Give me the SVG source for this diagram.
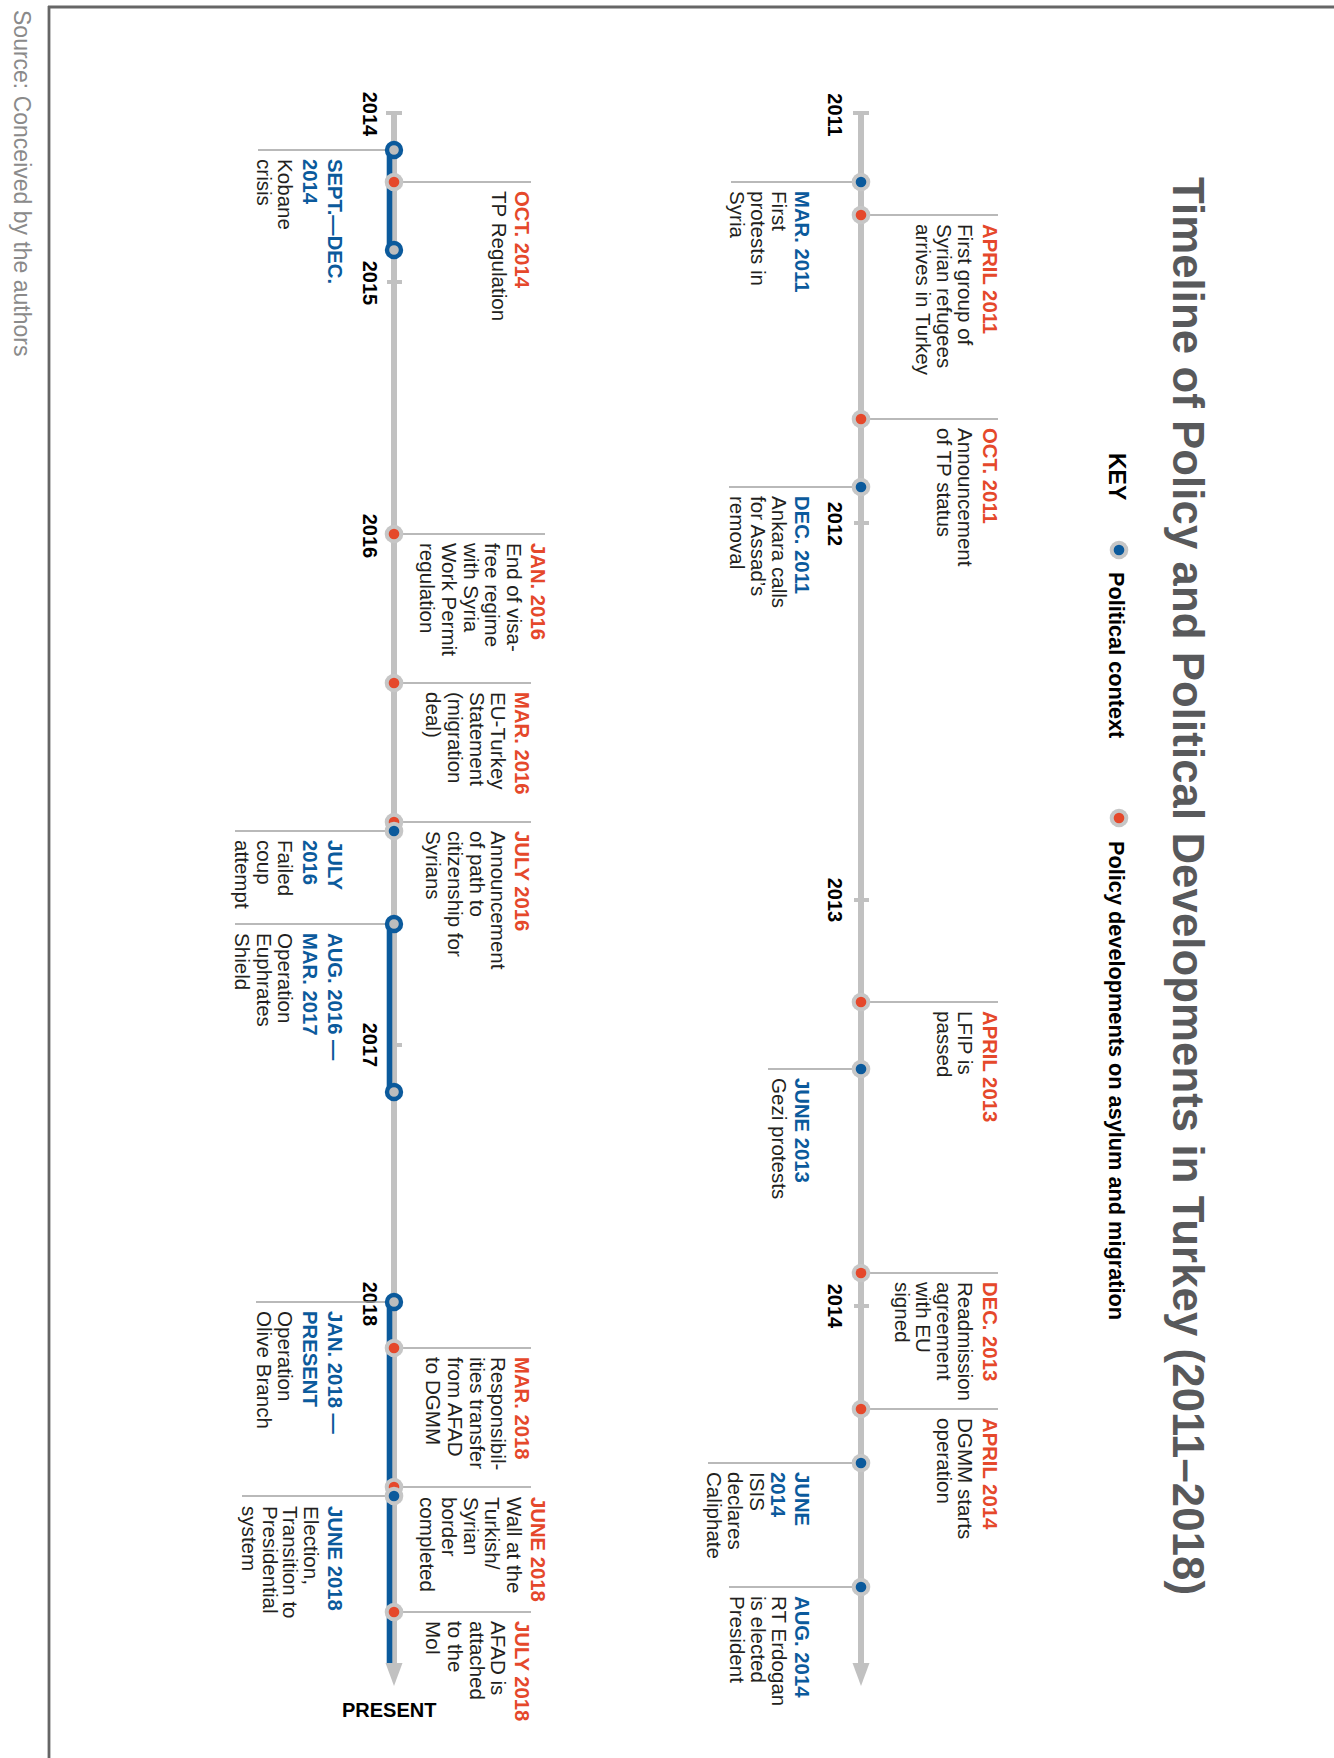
<svg xmlns="http://www.w3.org/2000/svg" width="1334" height="1758" viewBox="0 0 1334 1758">
<style>
.t{font-family:"Liberation Sans",Arial,sans-serif}
.b{font-size:20.6px;fill:#231f20}
.r{font-size:20.3px;font-weight:bold;fill:#e5482b}
.u{font-size:20.3px;font-weight:bold;fill:#0b5a9c}
.yr{font-family:"Liberation Sans",Arial,sans-serif;font-size:20px;font-weight:bold;fill:#000;text-anchor:middle}
.conn{stroke:#a3a3a3;stroke-width:1.5;fill:none}
.axis{stroke:#c1c1c1;stroke-width:6;fill:none}
.tick{stroke:#c1c1c1;stroke-width:4}
.halo{fill:#c6c6c6}
.dr{fill:#e5482b}
.db{fill:#0b5a9c}
.ring{fill:#bdbdbd;stroke:#0b5a9c;stroke-width:4.4}
.range{stroke:#0b5a9c;stroke-width:5.6}
.arr{fill:#c1c1c1}
</style>
<rect width="1334" height="1758" fill="#ffffff"/>
<g transform="translate(1334,0) rotate(90)">
  <g id="frame">
    <line x1="7" y1="0" x2="7" y2="1286" stroke="#666" stroke-width="2.8"/>
    <line x1="6" y1="1285" x2="1758" y2="1285" stroke="#666" stroke-width="2.8"/>
    <text class="t" x="10" y="1320" font-size="23" fill="#8a8a8a">Source: Conceived by the authors</text>
  </g>
  <g id="title">
    <text class="t" x="177" y="161" font-size="43.7" font-weight="bold" fill="#58595b" textLength="1418" lengthAdjust="spacing">Timeline of Policy and Political Developments in Turkey (2011–2018)</text>
  </g>
  <g id="legend">
    <text class="t" x="453" y="225" font-size="23" font-weight="bold" fill="#000">KEY</text>
    <circle class="halo" cx="550" cy="215" r="9.3"/><circle class="db" cx="550" cy="215" r="5.3"/>
    <text class="t" x="572" y="225" font-size="21.7" font-weight="bold" fill="#000">Political context</text>
    <circle class="halo" cx="818" cy="215" r="9.3"/><circle class="dr" cx="818" cy="215" r="5.3"/>
    <text class="t" x="841" y="225" font-size="21.7" font-weight="bold" fill="#000" textLength="479" lengthAdjust="spacing">Policy developments on asylum and migration</text>
  </g>
  <g id="axes">
    <line class="axis" x1="113" y1="473" x2="1666" y2="473"/>
    <polygon class="arr" points="1686,473 1663,464.5 1663,481.5"/>
    <line class="tick" x1="113" y1="465" x2="113" y2="481"/>
    <line class="tick" x1="523" y1="465" x2="523" y2="480"/>
    <line class="tick" x1="900" y1="465" x2="900" y2="480"/>
    <line class="tick" x1="1306" y1="465" x2="1306" y2="480"/>
    <text class="yr" x="115" y="506">2011</text>
    <text class="yr" x="524" y="506">2012</text>
    <text class="yr" x="900" y="506">2013</text>
    <text class="yr" x="1306" y="506">2014</text>
    <line class="axis" x1="113" y1="940" x2="1666" y2="940"/>
    <polygon class="arr" points="1686,940 1663,931.5 1663,948.5"/>
    <line class="tick" x1="113" y1="932" x2="113" y2="948"/>
    <line class="tick" x1="282" y1="932" x2="282" y2="947"/>
    <line class="tick" x1="1045" y1="932" x2="1045" y2="947"/>
    <text class="yr" x="114" y="971">2014</text>
    <text class="yr" x="283" y="971">2015</text>
    <text class="yr" x="536" y="971">2016</text>
    <text class="yr" x="1045" y="971">2017</text>
    <text class="yr" x="1304" y="971">2018</text>
    <line class="range" x1="150" y1="944.5" x2="250" y2="944.5"/>
    <line class="range" x1="924" y1="944.5" x2="1092" y2="944.5"/>
    <line class="range" x1="1302" y1="944.5" x2="1663" y2="944.5"/>
  </g>
  <g id="connectors">
    <path class="conn" d="M182 473V603M215 473V336M419 473V336M487 473V605M1002 473V336M1069 473V566M1273 473V336M1409 473V336M1463 473V626M1587 473V605"/>
    <path class="conn" d="M150 940V1076M182 940V803M534 940V789M683 940V803M822 940V803M831 940V1099M924 940V1099M1302 940V1078M1348 940V803M1487 940V803M1496 940V1092M1612 940V803"/>
  </g>
  <g id="ev-mar2011">
    <circle class="halo" cx="182" cy="473" r="9.3"/><circle class="db" cx="182" cy="473" r="5.3"/>
    <text class="t"><tspan class="u" x="191" y="539">MAR. 2011</tspan><tspan class="b" x="191" y="562">First</tspan><tspan class="b" x="191" y="583">protests in</tspan><tspan class="b" x="191" y="604">Syria</tspan></text>
  </g>
  <g id="ev-apr2011">
    <circle class="halo" cx="215" cy="473" r="9.3"/><circle class="dr" cx="215" cy="473" r="5.3"/>
    <text class="t"><tspan class="r" x="224" y="351">APRIL 2011</tspan><tspan class="b" x="224" y="376">First group of</tspan><tspan class="b" x="224" y="397">Syrian refugees</tspan><tspan class="b" x="224" y="418">arrives in Turkey</tspan></text>
  </g>
  <g id="ev-oct2011">
    <circle class="halo" cx="419" cy="473" r="9.3"/><circle class="dr" cx="419" cy="473" r="5.3"/>
    <text class="t"><tspan class="r" x="428" y="351">OCT. 2011</tspan><tspan class="b" x="428" y="376">Announcement</tspan><tspan class="b" x="428" y="397">of TP status</tspan></text>
  </g>
  <g id="ev-dec2011">
    <circle class="halo" cx="487" cy="473" r="9.3"/><circle class="db" cx="487" cy="473" r="5.3"/>
    <text class="t"><tspan class="u" x="496" y="539">DEC. 2011</tspan><tspan class="b" x="496" y="562">Ankara calls</tspan><tspan class="b" x="496" y="583">for Assad’s</tspan><tspan class="b" x="496" y="604">removal</tspan></text>
  </g>
  <g id="ev-apr2013">
    <circle class="halo" cx="1002" cy="473" r="9.3"/><circle class="dr" cx="1002" cy="473" r="5.3"/>
    <text class="t"><tspan class="r" x="1011" y="351">APRIL 2013</tspan><tspan class="b" x="1011" y="376">LFIP is</tspan><tspan class="b" x="1011" y="397">passed</tspan></text>
  </g>
  <g id="ev-jun2013">
    <circle class="halo" cx="1069" cy="473" r="9.3"/><circle class="db" cx="1069" cy="473" r="5.3"/>
    <text class="t"><tspan class="u" x="1078" y="539">JUNE 2013</tspan><tspan class="b" x="1078" y="562">Gezi protests</tspan></text>
  </g>
  <g id="ev-dec2013">
    <circle class="halo" cx="1273" cy="473" r="9.3"/><circle class="dr" cx="1273" cy="473" r="5.3"/>
    <text class="t"><tspan class="r" x="1282" y="351">DEC. 2013</tspan><tspan class="b" x="1282" y="376">Readmission</tspan><tspan class="b" x="1282" y="397">agreement</tspan><tspan class="b" x="1282" y="418">with EU</tspan><tspan class="b" x="1282" y="439">signed</tspan></text>
  </g>
  <g id="ev-apr2014">
    <circle class="halo" cx="1409" cy="473" r="9.3"/><circle class="dr" cx="1409" cy="473" r="5.3"/>
    <text class="t"><tspan class="r" x="1418" y="351">APRIL 2014</tspan><tspan class="b" x="1418" y="376">DGMM starts</tspan><tspan class="b" x="1418" y="397">operation</tspan></text>
  </g>
  <g id="ev-jun2014">
    <circle class="halo" cx="1463" cy="473" r="9.3"/><circle class="db" cx="1463" cy="473" r="5.3"/>
    <text class="t"><tspan class="u" x="1472" y="539">JUNE</tspan><tspan class="u" x="1472" y="563">2014</tspan><tspan class="b" x="1472" y="584">ISIS</tspan><tspan class="b" x="1472" y="606">declares</tspan><tspan class="b" x="1472" y="627">Caliphate</tspan></text>
  </g>
  <g id="ev-aug2014">
    <circle class="halo" cx="1587" cy="473" r="9.3"/><circle class="db" cx="1587" cy="473" r="5.3"/>
    <text class="t"><tspan class="u" x="1596" y="539">AUG. 2014</tspan><tspan class="b" x="1596" y="562">RT Erdogan</tspan><tspan class="b" x="1596" y="583">is elected</tspan><tspan class="b" x="1596" y="604">President</tspan></text>
  </g>
  <g id="ev-sept2014">
    <circle class="ring" cx="150" cy="940" r="7"/><circle class="ring" cx="250" cy="940" r="7"/>
    <text class="t"><tspan class="u" x="159" y="1006">SEPT.—DEC.</tspan><tspan class="u" x="159" y="1031">2014</tspan><tspan class="b" x="159" y="1056">Kobane</tspan><tspan class="b" x="159" y="1077">crisis</tspan></text>
  </g>
  <g id="ev-oct2014">
    <circle class="halo" cx="182" cy="940" r="9.3"/><circle class="dr" cx="182" cy="940" r="5.3"/>
    <text class="t"><tspan class="r" x="191" y="819">OCT. 2014</tspan><tspan class="b" x="191" y="842">TP Regulation</tspan></text>
  </g>
  <g id="ev-jan2016">
    <circle class="halo" cx="534" cy="940" r="9.3"/><circle class="dr" cx="534" cy="940" r="5.3"/>
    <text class="t"><tspan class="r" x="543" y="803">JAN. 2016</tspan><tspan class="b" x="543" y="827">End of visa-</tspan><tspan class="b" x="543" y="849">free regime</tspan><tspan class="b" x="543" y="870">with Syria</tspan><tspan class="b" x="543" y="892">Work Permit</tspan><tspan class="b" x="543" y="914">regulation</tspan></text>
  </g>
  <g id="ev-mar2016">
    <circle class="halo" cx="683" cy="940" r="9.3"/><circle class="dr" cx="683" cy="940" r="5.3"/>
    <text class="t"><tspan class="r" x="692" y="819">MAR. 2016</tspan><tspan class="b" x="692" y="843">EU-Turkey</tspan><tspan class="b" x="692" y="864">Statement</tspan><tspan class="b" x="692" y="886">(migration</tspan><tspan class="b" x="692" y="908">deal)</tspan></text>
  </g>
  <g id="ev-jul2016-policy">
    <circle class="halo" cx="822" cy="940" r="9.3"/><circle class="dr" cx="822" cy="940" r="5.3"/>
    <text class="t"><tspan class="r" x="831" y="819">JULY 2016</tspan><tspan class="b" x="831" y="843">Announcement</tspan><tspan class="b" x="831" y="864">of path to</tspan><tspan class="b" x="831" y="886">citizenship for</tspan><tspan class="b" x="831" y="908">Syrians</tspan></text>
  </g>
  <g id="ev-jul2016-coup">
    <circle class="halo" cx="831" cy="940" r="9.3"/><circle class="db" cx="831" cy="940" r="5.3"/>
    <text class="t"><tspan class="u" x="840" y="1006">JULY</tspan><tspan class="u" x="840" y="1031">2016</tspan><tspan class="b" x="840" y="1056">Failed</tspan><tspan class="b" x="840" y="1077">coup</tspan><tspan class="b" x="840" y="1099">attempt</tspan></text>
  </g>
  <g id="ev-aug2016">
    <circle class="ring" cx="924" cy="940" r="7"/><circle class="ring" cx="1092" cy="940" r="7"/>
    <text class="t"><tspan class="u" x="933" y="1006">AUG. 2016 —</tspan><tspan class="u" x="933" y="1031">MAR. 2017</tspan><tspan class="b" x="933" y="1056">Operation</tspan><tspan class="b" x="933" y="1077">Euphrates</tspan><tspan class="b" x="933" y="1099">Shield</tspan></text>
  </g>
  <g id="ev-jan2018">
    <circle class="ring" cx="1302" cy="940" r="7"/>
    <text class="t"><tspan class="u" x="1311" y="1006">JAN. 2018 —</tspan><tspan class="u" x="1311" y="1031">PRESENT</tspan><tspan class="b" x="1311" y="1056">Operation</tspan><tspan class="b" x="1311" y="1077">Olive Branch</tspan></text>
  </g>
  <g id="ev-mar2018">
    <circle class="halo" cx="1348" cy="940" r="9.3"/><circle class="dr" cx="1348" cy="940" r="5.3"/>
    <text class="t"><tspan class="r" x="1357" y="819">MAR. 2018</tspan><tspan class="b" x="1357" y="843">Responsibil-</tspan><tspan class="b" x="1357" y="864">ities transfer</tspan><tspan class="b" x="1357" y="886">from AFAD</tspan><tspan class="b" x="1357" y="908">to DGMM</tspan></text>
  </g>
  <g id="ev-jun2018-wall">
    <circle class="halo" cx="1487" cy="940" r="9.3"/><circle class="dr" cx="1487" cy="940" r="5.3"/>
    <text class="t"><tspan class="r" x="1497" y="803">JUNE 2018</tspan><tspan class="b" x="1497" y="827">Wall at the</tspan><tspan class="b" x="1497" y="849">Turkish/</tspan><tspan class="b" x="1497" y="870">Syrian</tspan><tspan class="b" x="1497" y="892">border</tspan><tspan class="b" x="1497" y="914">completed</tspan></text>
  </g>
  <g id="ev-jun2018-election">
    <circle class="halo" cx="1496" cy="940" r="9.3"/><circle class="db" cx="1496" cy="940" r="5.3"/>
    <text class="t"><tspan class="u" x="1506" y="1006">JUNE 2018</tspan><tspan class="b" x="1506" y="1030">Election,</tspan><tspan class="b" x="1506" y="1051">Transition to</tspan><tspan class="b" x="1506" y="1071">Presidential</tspan><tspan class="b" x="1506" y="1092">system</tspan></text>
  </g>
  <g id="ev-jul2018">
    <circle class="halo" cx="1612" cy="940" r="9.3"/><circle class="dr" cx="1612" cy="940" r="5.3"/>
    <text class="t"><tspan class="r" x="1621" y="819">JULY 2018</tspan><tspan class="b" x="1621" y="843">AFAD is</tspan><tspan class="b" x="1621" y="864">attached</tspan><tspan class="b" x="1621" y="886">to the</tspan><tspan class="b" x="1621" y="908">MoI</tspan></text>
  </g>
</g>
<g id="present-label">
  <text x="342" y="1717" font-family="Liberation Sans, Arial, sans-serif" font-size="20" font-weight="bold" fill="#000">PRESENT</text>
</g>
</svg>
